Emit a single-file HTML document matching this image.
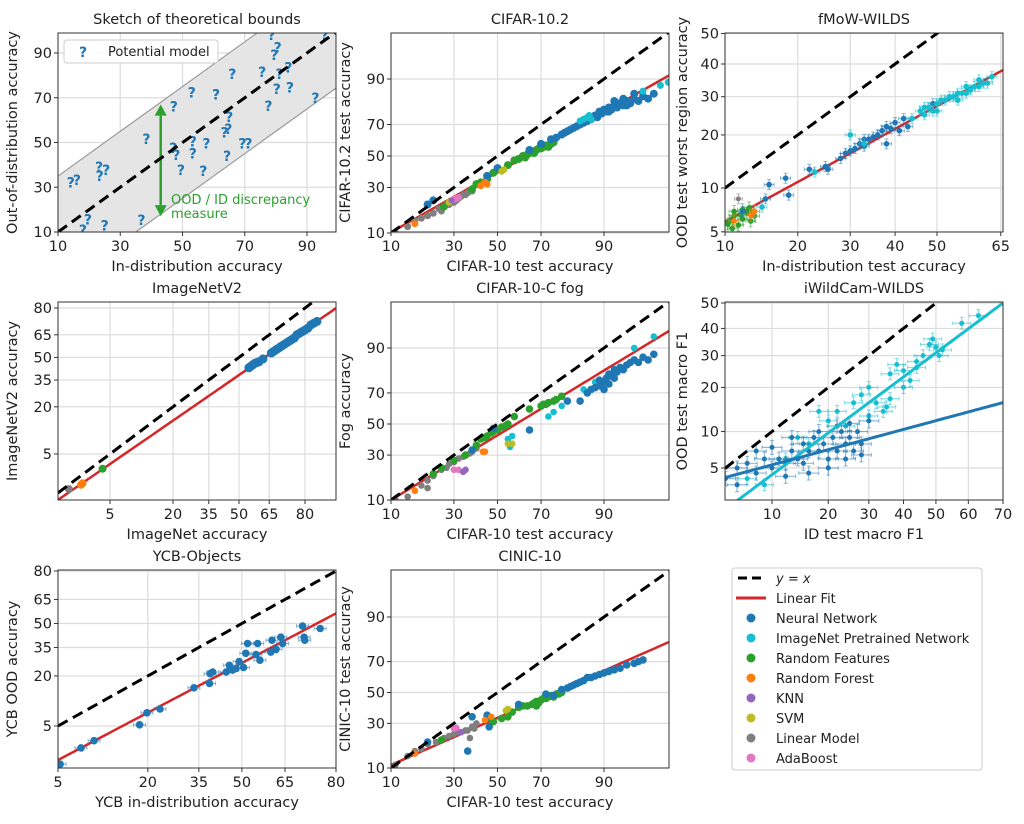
<!DOCTYPE html>
<html><head><meta charset="utf-8">
<style>
html,body{margin:0;padding:0;background:#fff;}
svg{display:block;font-family:"DejaVu Sans","Liberation Sans",sans-serif;}
</style></head>
<body>
<svg id="fig" xmlns="http://www.w3.org/2000/svg" width="1024" height="824" viewBox="0 0 1024 824"></svg>
<script>
// ---------------- DATA ----------------
const sketchQuestionX = [14.1,16.1,23.2,23.4,25.5,18,19.6,25,36.8,38.4,47.2,47,48,49.5,53,53.3,53.3,57.7,56.7,60.8,63.5,64.3,64.7,65,66,69.2,71.2,75.6,77.6,78.6,79.5,80.6,80.3,81.2,84,84.5,92.7,95.7];
const sketchQuestionY = [32.1,33.3,39,35,37.7,11,15.6,13,15.3,51.6,66,47.5,44.5,37.8,72.3,50.5,45,49.5,37.3,71.5,54.4,43.9,56,61.5,80.6,49.5,49.5,81.4,66.3,98,89,92.4,74,80.6,83.6,74.6,70,98];

// CIFAR-10.2
const c102Neural = [[20,21],[22,23],[45,37],[50,42],[65,54],[70,58],[74,61],[76,62],[78,64],[79,65],[80,66],[81,67],[82,68],[83,69],[84,70],[85,71],[86,72],[87,73],[88,75],[88.5,74],[89,77],[89.5,76],[90,78],[90.5,77],[91,79],[91.5,78],[92,80],[92.5,79],[93,81],[93.5,80],[94,82],[94.5,81],[95,83],[95.5,82],[96,84],[96.5,83],[97,85],[93.5,83],[95,85],[91,77],[92,82],[94,80]];
const c102ImageNet = [[84,72],[85,73],[86,74],[87,73],[86.5,75],[96,86],[97.5,88],[98,89]];
const c102RandFeat = [[26,20],[38,29],[40,32],[42,33],[45,35],[48,39],[50,41],[55,44],[58,47],[60,48],[62,50],[63,49],[64,51],[65,52],[66,53],[67,52],[68,54],[69,55],[70,55],[71,56],[72,57],[73,56],[74,58],[75,59]];
const c102Linear = [[11,10],[14,12],[16,14],[18,15],[20,16],[22,17],[24,19],[25,18],[26,20],[27,21],[28,21],[29,22],[30,22],[31,23],[32,24],[33,25],[34,26],[35,26],[36,27],[37,28],[38,28]];
const c102Forest = [[16,13],[42,31],[44,33],[45,32]];
const c102Ada = [[30,23.5],[32,24.5],[31,24]];
const c102SVM = [[52,40],[53,41],[28,22]];
const c102KNN = [[29,23]];
const c102Fit = [0.78,-0.27];

// fMoW
const fmowNeural = [[12,7],[15,8.5],[15.5,10.5],[18,11.5],[18.5,9],[22,13],[25,13.5],[25.5,13],[28,15],[29,16],[30,16.5],[31,17],[32,18],[33,17.5],[34,19],[35,19.5],[36,20],[37,21],[38,22],[39,21.5],[40,23],[42,24],[41,21],[38,18],[33,19],[43,22],[49,28]];
const fmowImageNet = [[30,20],[33,18],[44,24],[46,26],[47,27],[48,27],[49,26],[50,28],[51,29],[52,29],[53,30],[54,30],[55,31],[56,31],[57,33],[58,32],[59,33],[60,33],[61,34],[62,34],[63,36],[50,26],[55,29],[47,25],[57,31],[60,35],[23,12.5],[14.5,7.5],[13.5,7]];
const fmowRandFeat = [[10.5,6],[11,6.5],[12,6.2],[13,7],[11.5,5.6],[12.5,6.8],[11,7],[13.5,6.5],[10.3,5.7],[12,7.2],[13,6],[11.8,6.6],[12.8,7.4],[10.8,5.3]];
const fmowForest = [[13.5,7],[11,6],[13,6.6]];
const fmowLinear = [[11.5,8.5]];
const fmowFit = [0.748,-0.602];

// ImageNetV2
const inv2Neural = [[55,43],[56,44],[57,45],[58,46],[59,46.5],[60,47],[62,49],[66,53],[67,54],[68,55],[69,56],[70,57],[71,58],[72,59],[73,60],[74,61],[75,62],[76,63],[77,65],[78,66],[79,67],[80,68],[81,69],[82,71],[83,72],[84,73]];
const inv2RandFeat = [[4.1,2.9]];
const inv2Forest = [[2.2,1.5],[2.3,1.6]];
const inv2Linear = [[1.5,1.25]];
const inv2Fit = [0.921,-0.301];

// CIFAR-10-C fog
const fogLinear = [[11,10],[13,9],[18,15],[20,17],[22,19],[25,22],[27,23],[28,25],[30,26],[32,28],[34,29],[35,30],[37,31],[38,32],[40,34],[20,14],[14,11]];
const fogRandFeat = [[22,20],[25,23],[30,27],[35,30],[40,36],[42,40],[44,41],[45,42],[47,44],[48,45],[50,46],[52,48],[54,49],[55,50],[58,55],[65,60],[70,62],[71,63],[72,63],[73,64],[75,65],[76,66],[78,68]];
const fogImageNet = [[55,40],[57,42],[56,35],[73,55],[75,58],[78,62],[85,72],[88,76],[95,90],[97,93],[99,96]];
const fogNeural = [[38,33],[48,47],[65,46],[80,65],[84,65],[86,70],[87,72],[88,73],[89,74],[90,76],[90.5,78],[91,80],[91.5,79],[92,82],[92.5,81],[93,83],[93.5,82],[94,84],[94.5,85],[95,86],[95.5,85],[96,87],[96.5,86],[97,88],[90,72],[92,78],[89,77],[91,75]];
const fogForest = [[16,13],[43,32],[44,32]];
const fogSVM = [[55,37],[57,37]];
const fogAda = [[30,22],[32,22]];
const fogKNN = [[34,21],[35,22]];
const fogFit = [0.852,-0.19];

// iWildCam
const iwcNeural = [[5,4],[6,5],[7,5.5],[8,4.5],[9,6],[10,5],[11,6],[12,5.5],[13,7],[14,6],[15,8],[16,7],[17,9],[18,7],[19,8],[20,6],[21,9],[22,7],[23,10],[24,8],[25,9],[26,7],[27,10],[28,8],[8,7],[10,7.5],[12,4.2],[15,5.5],[18,10],[22,11],[25,11.5],[28,6.5],[13,9],[20,5],[6,3.5],[16,4.5],[24,6],[30,12]];
const iwcImageNet = [[7,4],[9,3.5],[12,6],[14,9],[16,8],[18,14],[20,12],[22,14],[24,11],[26,16],[28,18],[30,20],[32,16],[34,14],[35,15],[36,17],[36,24],[38,27],[40,25],[42,22],[44,28],[46,30],[48,34],[50,33],[52,32],[49,36],[51,30],[58,42],[63,45],[40,20],[30,13],[44,26]];
const iwcFitNeural = [0.344,-1.173];
const iwcFitImageNet = [0.948,-0.497];

// YCB
const ycbNeural = [[7.5,2.3],[9.3,3.0],[18,5.2],[19.8,7.6],[23.2,8.5],[33.4,15.1],[38.6,16.8],[38.8,21],[39.7,21.8],[44.4,21.8],[45.5,25.1],[46.7,22.7],[47.9,23.5],[49,27.1],[50.6,24],[51.4,31.6],[52,37.4],[55.6,37.4],[55,30.9],[56.4,27.8],[60.2,32.3],[60.6,39.4],[63.6,41.3],[64.2,37.4],[62,33.9],[70.6,48.4],[71.1,41.3],[71.3,39.4],[75.8,46.8],[5.2,1.2]];
const ycbFit = [0.946,-0.634];

// CINIC-10
const cinicLinear = [[11,11],[14,14],[16,16],[18,17],[20,19],[23,20],[26,22],[28,23],[30,24],[32,25],[33,25],[35,26],[36,26],[38,28],[40,30],[37,22],[39,27]];
const cinicForest = [[16,15],[44,32],[47,34]];
const cinicAda = [[30,27],[31,27.5]];
const cinicKNN = [[33,25]];
const cinicRandFeat = [[25,21],[45,33],[48,31],[52,33],[55,34],[57,37],[60,40],[62,41],[64,41],[66,42],[67,43],[68,44],[69,43],[70,45],[71,46],[72,46],[73,47],[74,48],[75,47],[76,49],[77,49],[78,50],[68,41]];
const cinicSVM = [[54,38],[55,39]];
const cinicNeural = [[20,20],[38,34],[45,35],[46,28],[36,16],[60,42],[72,49],[78,52],[80,53],[81,54],[82,55],[83,56],[84,57],[85,58],[86,60],[87,60],[88,61],[89,62],[90,63],[91,64],[92,65],[93,66],[94,68],[95,69],[95.5,70],[96,71],[75,48]];
const cinicFit = [0.624,-0.43];

const legendLabels = ["Neural Network","ImageNet Pretrained Network","Random Features","Random Forest","KNN","SVM","Linear Model","AdaBoost"];

// ---------------- HELPERS ----------------
const C = {nn:"#1f77b4",inet:"#17becf",rf:"#2ca02c",forest:"#ff7f0e",knn:"#9467bd",svm:"#bcbd22",lin:"#7f7f7f",ada:"#e377c2",red:"#d62728"};
const NS="http://www.w3.org/2000/svg";
const svg=document.getElementById('fig');
function el(tag,attrs,parent){const e=document.createElementNS(NS,tag);for(const k in attrs)e.setAttribute(k,attrs[k]);(parent||svg).appendChild(e);return e;}
function ppf(p){
  const a=[-39.69683028665376,220.9460984245205,-275.9285104469687,138.3577518672690,-30.66479806614716,2.506628277459239];
  const b=[-54.47609879822406,161.5858368580409,-155.6989798598866,66.80131188771972,-13.28068155288572];
  const c=[-0.007784894002430293,-0.3223964580411365,-2.400758277161838,-2.549732539343734,4.374664141464968,2.938163982698783];
  const d=[0.007784695709041462,0.3224671290700398,2.445134137142996,3.754408661907416];
  const pl=0.02425;let q,r;
  if(p<pl){q=Math.sqrt(-2*Math.log(p));return (((((c[0]*q+c[1])*q+c[2])*q+c[3])*q+c[4])*q+c[5])/((((d[0]*q+d[1])*q+d[2])*q+d[3])*q+1);}
  if(p>1-pl){q=Math.sqrt(-2*Math.log(1-p));return -(((((c[0]*q+c[1])*q+c[2])*q+c[3])*q+c[4])*q+c[5])/((((d[0]*q+d[1])*q+d[2])*q+d[3])*q+1);}
  q=p-0.5;r=q*q;return (((((a[0]*r+a[1])*r+a[2])*r+a[3])*r+a[4])*r+a[5])*q/(((((b[0]*r+b[1])*r+b[2])*r+b[3])*r+b[4])*r+1);
}
function erf(x){const s=x<0?-1:1;x=Math.abs(x);const t=1/(1+0.3275911*x);const y=1-(((((1.061405429*t-1.453152027)*t)+1.421413741)*t-0.284496736)*t+0.254829592)*t*Math.exp(-x*x);return s*y;}
function cdf(z){return 0.5*(1+erf(z/Math.SQRT2));}
function mkScale(type,v0,p0,v1,p1){
  const T=type==='lin'?(v=>v):(v=>ppf(Math.min(Math.max(v/100,1e-6),1-1e-6)));
  const Ti=type==='lin'?(u=>u):(u=>100*cdf(u));
  const k=(p1-p0)/(T(v1)-T(v0));
  const f=v=>p0+k*(T(v)-T(v0));
  f.inv=px=>Ti((px-p0)/k+T(v0));
  return f;
}
let clipId=0;
function panel(cfg){
  const [l,t,r,b]=cfg.box;
  const g=el('g',{});
  
  
  const sx=mkScale(cfg.type,...cfg.xs), sy=mkScale(cfg.type,...cfg.ys);
  const id='clip'+(clipId++);
  const cp=el('clipPath',{id:id},g);el('rect',{x:l,y:t,width:r-l,height:b-t},cp);
  const grid=el('g',{},g);
  
  
  cfg.xt.forEach(v=>{const x=sx(v);el('line',{x1:x,x2:x,y1:t,y2:b,stroke:'#dcdcdc','stroke-width':1.2},grid);});
  cfg.yt.forEach(v=>{const y=sy(v);el('line',{x1:l,x2:r,y1:y,y2:y,stroke:'#dcdcdc','stroke-width':1.2},grid);});
  const plot=el('g',{'clip-path':'url(#'+id+')'},g);
  const ctx={sx,sy,plot,l,t,r,b,xmin:sx.inv(l),xmax:sx.inv(r)};
  if(cfg.draw)cfg.draw(ctx);
  if(cfg.diag!==false){
    let pts=[];const N=80;
    for(let i=0;i<=N;i++){const v=ctx.xmin+(ctx.xmax-ctx.xmin)*i/N;pts.push(sx(v).toFixed(1)+','+sy(v).toFixed(1));}
    const d=el('polyline',{points:pts.join(' '),fill:'none',stroke:'#000','stroke-width':3,'stroke-dasharray':'11,6'},plot);
    
    
  }
  el('rect',{x:l,y:t,width:r-l,height:b-t,fill:'none',stroke:'#333','stroke-width':1},g);
  cfg.xt.forEach(v=>{const x=sx(v);el('line',{x1:x,x2:x,y1:b,y2:b+4,stroke:'#333'},g);
    const tx=el('text',{x:x,y:b+19,'text-anchor':'middle','font-size':14.5,fill:'#222'},g);tx.textContent=v;
    
    });
  cfg.yt.forEach(v=>{const y=sy(v);el('line',{x1:l-4,x2:l,y1:y,y2:y,stroke:'#333'},g);
    const ty=el('text',{x:l-6,y:y+5,'text-anchor':'end','font-size':14.5,fill:'#222'},g);ty.textContent=v;
    
    });
  const ti=el('text',{x:(l+r)/2,y:t-9,'text-anchor':'middle','font-size':14.5,fill:'#222'},g);ti.textContent=cfg.title;
  
  
  const xl=el('text',{x:(l+r)/2,y:b+39,'text-anchor':'middle','font-size':14.5,fill:'#222'},g);xl.textContent=cfg.xlabel;
  
  
  const yx=cfg.ylx, yy=(t+b)/2;
  const yl=el('text',{x:yx,y:yy,'text-anchor':'middle','font-size':14.5,fill:'#222',transform:'rotate(-90 '+yx+' '+yy+')'},g);yl.textContent=cfg.ylabel;
  
  
  return ctx;
}
function fitLine(ctx,fit,color,w){
  const pts=[];const N=80;
  for(let i=0;i<=N;i++){const v=ctx.xmin+(ctx.xmax-ctx.xmin)*i/N;const y=100*cdf(fit[0]*ppf(v/100)+fit[1]);pts.push(ctx.sx(v).toFixed(1)+','+ctx.sy(y).toFixed(1));}
  const p=el('polyline',{points:pts.join(' '),fill:'none',stroke:color,'stroke-width':w||2.5},ctx.plot);
  
  
}
function scatter(ctx,data,color,rad,err){
  const g=el('g',{},ctx.plot);
  
  
  data.forEach(d=>{
    const x=ctx.sx(d[0]),y=ctx.sy(d[1]);
    if(err){
      const ex=err[0],ey=err[1];
      el('line',{x1:x-ex,x2:x+ex,y1:y,y2:y,stroke:color,'stroke-opacity':0.5,'stroke-width':1.2},g);
      el('line',{x1:x,x2:x,y1:y-ey,y2:y+ey,stroke:color,'stroke-opacity':0.5,'stroke-width':1.2},g);
      el('line',{x1:x-2,x2:x+2,y1:y-ey,y2:y-ey,stroke:color,'stroke-opacity':0.5},g);
      el('line',{x1:x-2,x2:x+2,y1:y+ey,y2:y+ey,stroke:color,'stroke-opacity':0.5},g);
      el('line',{x1:x-ex,x2:x-ex,y1:y-2,y2:y+2,stroke:color,'stroke-opacity':0.5},g);
      el('line',{x1:x+ex,x2:x+ex,y1:y-2,y2:y+2,stroke:color,'stroke-opacity':0.5},g);
    }
    const c=el('circle',{cx:x.toFixed(1),cy:y.toFixed(1),r:rad,fill:color},g);
    
    
  });
}
const cifarTicks=[10,30,50,70,90];

// ---------------- PANEL 1 ----------------
panel({name:'sketch-panel',box:[58,33,336,232],type:'lin',xs:[10,58,90,307],ys:[10,232,90,53],xt:cifarTicks,yt:cifarTicks,
  title:'Sketch of theoretical bounds',xlabel:'In-distribution accuracy',ylabel:'Out-of-distribution accuracy',ylx:17,
  draw:(c)=>{
    const {sx,sy,plot}=c;
    const poly=[[10,35],[75,100],[100,100],[100,75],[35,10],[10,10]].map(p=>sx(p[0])+','+sy(p[1])).join(' ');
    const band=el('polygon',{points:poly,fill:'#e5e5e5'},plot);
    
    
    el('line',{x1:sx(10),y1:sy(35),x2:sx(75),y2:sy(100),stroke:'#999','stroke-width':1.2},plot);
    el('line',{x1:sx(35),y1:sy(10),x2:sx(100),y2:sy(75),stroke:'#999','stroke-width':1.2},plot);
    sketchQuestionX.forEach((v,i)=>{
      const q=el('text',{x:sx(v),y:sy(sketchQuestionY[i])+5,'text-anchor':'middle','font-size':14,'font-weight':'bold',fill:C.nn},plot);q.textContent='?';
      
      
    });
    const ax=sx(43);
    const ar=el('g',{},plot);
    
    
    el('line',{x1:ax,x2:ax,y1:sy(62),y2:sy(22),stroke:C.rf,'stroke-width':2.5},ar);
    el('polygon',{points:`${ax-6},${sy(62)} ${ax+6},${sy(62)} ${ax},${sy(67)}`,fill:C.rf},ar);
    el('polygon',{points:`${ax-6},${sy(22)} ${ax+6},${sy(22)} ${ax},${sy(17)}`,fill:C.rf},ar);
    const t1=el('text',{x:171,y:204,'font-size':13,fill:C.rf},plot);t1.textContent='OOD / ID discrepancy';
    
    
    const t2=el('text',{x:171,y:218,'font-size':13,fill:C.rf},plot);t2.textContent='measure';
    const lg=el('g',{},plot);
    
    
    el('rect',{x:64,y:40,width:154,height:23,rx:3,fill:'#fff','fill-opacity':0.85,stroke:'#ccc'},lg);
    const lq=el('text',{x:83,y:57,'text-anchor':'middle','font-size':14,'font-weight':'bold',fill:C.nn},lg);lq.textContent='?';
    const lt=el('text',{x:108,y:56,'font-size':13,fill:'#222'},lg);lt.textContent='Potential model';
  }});

// ---------------- PANEL 2 ----------------
panel({name:'cifar-10-2-panel',box:[391,33,669,232],type:'p',xs:[10,391,90,604],ys:[10,233,90,79],xt:cifarTicks,yt:cifarTicks,
  title:'CIFAR-10.2',xlabel:'CIFAR-10 test accuracy',ylabel:'CIFAR-10.2 test accuracy',ylx:350,
  draw:(c)=>{fitLine(c,c102Fit,C.red);
    scatter(c,c102Linear,C.lin,3.5);scatter(c,c102RandFeat,C.rf,4);scatter(c,c102Neural,C.nn,4);scatter(c,c102ImageNet,C.inet,3.5);
    scatter(c,c102Forest,C.forest,3.5);scatter(c,c102Ada,C.ada,3.5);scatter(c,c102SVM,C.svm,3.5);scatter(c,c102KNN,C.knn,3);}});

// ---------------- PANEL 3 ----------------
panel({name:'fmow-wilds-panel',box:[725,33,1003,232],type:'p',xs:[10,725,50,937],ys:[10,188,40,64],xt:[10,20,30,40,50,65],yt:[5,10,20,30,40,50],
  title:'fMoW-WILDS',xlabel:'In-distribution test accuracy',ylabel:'OOD test worst region accuracy',ylx:687,
  draw:(c)=>{fitLine(c,fmowFit,C.red);
    scatter(c,fmowRandFeat,C.rf,2.8,[5,6]);scatter(c,fmowNeural,C.nn,2.8,[5,5]);scatter(c,fmowImageNet,C.inet,2.8,[5,5]);
    scatter(c,fmowForest,C.forest,2.8,[5,6]);scatter(c,fmowLinear,C.lin,2.5,[4,5]);}});

// ---------------- PANEL 4 ----------------
panel({name:'imagenetv2-panel',box:[58,302,336,500],type:'p',xs:[5,110,80,305],ys:[5,454,80,308],xt:[5,20,35,50,65,80],yt:[5,20,35,50,65,80],
  title:'ImageNetV2',xlabel:'ImageNet accuracy',ylabel:'ImageNetV2 accuracy',ylx:17,
  draw:(c)=>{fitLine(c,inv2Fit,C.red);
    scatter(c,inv2Neural,C.nn,4.5);scatter(c,inv2RandFeat,C.rf,4);scatter(c,inv2Forest,C.forest,4);scatter(c,inv2Linear,C.lin,4);}});

// ---------------- PANEL 5 ----------------
panel({name:'cifar-10-c-fog-panel',box:[391,302,669,500],type:'p',xs:[10,391,90,604],ys:[10,500,90,348],xt:cifarTicks,yt:cifarTicks,
  title:'CIFAR-10-C fog',xlabel:'CIFAR-10 test accuracy',ylabel:'Fog accuracy',ylx:350,
  draw:(c)=>{fitLine(c,fogFit,C.red);
    scatter(c,fogLinear,C.lin,3.3);scatter(c,fogRandFeat,C.rf,3.8);scatter(c,fogImageNet,C.inet,3.3);scatter(c,fogNeural,C.nn,3.8);
    scatter(c,fogForest,C.forest,3.3);scatter(c,fogSVM,C.svm,3.3);scatter(c,fogAda,C.ada,3.3);scatter(c,fogKNN,C.knn,3.3);}});

// ---------------- PANEL 6 ----------------
panel({name:'iwildcam-wilds-panel',box:[725,302,1003,500],type:'p',xs:[10,772,70,1003],ys:[5,468,50,303],xt:[10,20,30,40,50,60,70],yt:[5,10,20,30,40,50],
  title:'iWildCam-WILDS',xlabel:'ID test macro F1',ylabel:'OOD test macro F1',ylx:687,
  draw:(c)=>{
    scatter(c,iwcImageNet,C.inet,2.5,[9,6]);scatter(c,iwcNeural,C.nn,2.5,[10,7]);
    fitLine(c,iwcFitImageNet,C.inet,3);fitLine(c,iwcFitNeural,C.nn,3);}});

// ---------------- PANEL 7 ----------------
panel({name:'ycb-objects-panel',box:[58,570,336,768],type:'p',xs:[5,58,80,336],ys:[5,726,80,571],xt:[5,20,35,50,65,80],yt:[5,20,35,50,65,80],
  title:'YCB-Objects',xlabel:'YCB in-distribution accuracy',ylabel:'YCB OOD accuracy',ylx:17,
  draw:(c)=>{fitLine(c,ycbFit,C.red);scatter(c,ycbNeural,C.nn,3.8,[6,2]);}});

// ---------------- PANEL 8 ----------------
panel({name:'cinic-10-panel',box:[391,570,669,768],type:'p',xs:[10,391,90,604],ys:[10,768,90,617],xt:cifarTicks,yt:cifarTicks,
  title:'CINIC-10',xlabel:'CIFAR-10 test accuracy',ylabel:'CINIC-10 test accuracy',ylx:350,
  draw:(c)=>{fitLine(c,cinicFit,C.red);
    scatter(c,cinicLinear,C.lin,3.3);scatter(c,cinicRandFeat,C.rf,3.8);scatter(c,cinicNeural,C.nn,3.8);
    scatter(c,cinicForest,C.forest,3.3);scatter(c,cinicAda,C.ada,3.3);scatter(c,cinicKNN,C.knn,3.3);scatter(c,cinicSVM,C.svm,3.3);}});

// ---------------- LEGEND ----------------
(function(){
  const g=el('g',{});
  
  
  el('rect',{x:732,y:568,width:250,height:202,rx:3,fill:'#fff',stroke:'#ccc'},g);
  el('line',{x1:738,x2:765,y1:578,y2:578,stroke:'#000','stroke-width':3,'stroke-dasharray':'9,5'},g);
  const t0=el('text',{x:776,y:583,'font-size':13,'font-style':'italic',fill:'#222'},g);t0.textContent='y = x';
  
  
  el('line',{x1:736,x2:766,y1:598,y2:598,stroke:C.red,'stroke-width':3},g);
  const t1=el('text',{x:776,y:603,'font-size':13,fill:'#222'},g);t1.textContent='Linear Fit';
  
  
  const cols=[C.nn,C.inet,C.rf,C.forest,C.knn,C.svm,C.lin,C.ada];
  legendLabels.forEach((lab,i)=>{
    const y=618+20*i;
    el('circle',{cx:751,cy:y,r:4.5,fill:cols[i]},g);
    const t=el('text',{x:776,y:y+5,'font-size':13,fill:'#222'},g);t.textContent=lab;
    
    
  });
})();
</script>
</body></html>
